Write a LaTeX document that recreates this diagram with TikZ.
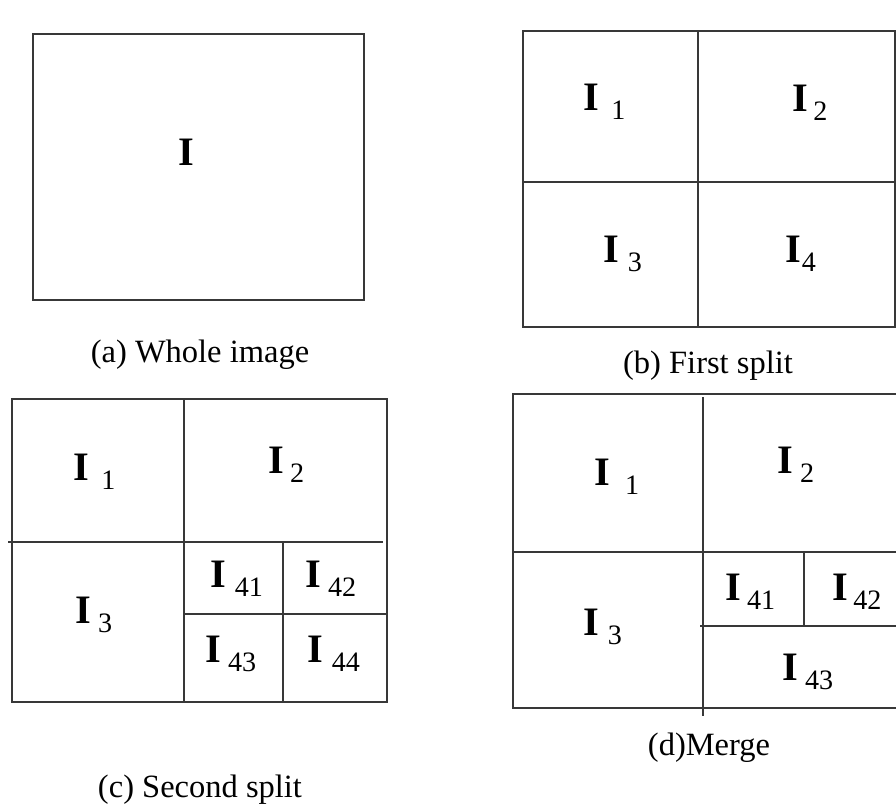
\documentclass[tikz,border=0pt]{standalone}
\usepackage{fontspec}
\setmainfont{Liberation Serif}
\usepackage{tikz}

% region label: bold I with a lowered subscript
\newcommand{\subsz}{\fontsize{16}{18}\selectfont}
\newcommand{\Isub}[2][4pt]{\textbf{I}\hspace{#1}\raisebox{-5.5pt}{\subsz #2}}

\begin{document}
\begin{tikzpicture}[x=0.02cm, y=-0.02cm,
  every node/.style={inner sep=0pt, font=\fontsize{23}{27}\selectfont},
  region/.style={anchor=base west},
  caption/.style={anchor=base, font=\fontsize{18.5}{22}\selectfont},
  grid/.style={line width=1.1pt, draw=black!78}]

\useasboundingbox (0,0) rectangle (896,806);
\clip (0,0) rectangle (896,806);

% (a) whole image
\draw[grid] (33,34) rectangle (364,300);
\node[region] (a-I) at (178,165) {\textbf{I}};
\node[caption] (cap-a) at (200,362) {(a) Whole image};

% (b) first split
\draw[grid] (523,31) rectangle (895,327);
\draw[grid] (698,31) -- (698,327);
\draw[grid] (523,182) -- (895,182);
\node[region] (b-1) at (583,110) {\Isub[7pt]{1}};
\node[region] (b-2) at (792,111) {\Isub[3pt]{2}};
\node[region] (b-3) at (603,262) {\Isub[5pt]{3}};
\node[region] (b-4) at (785,262) {\Isub[0.5pt]{4}};
\node[caption] (cap-b) at (708,373) {(b) First split};

% (c) second split
\draw[grid] (12,399) rectangle (387,702);
\draw[grid] (184,399) -- (184,702);
\draw[grid] (8,542) -- (383,542);
\draw[grid] (283,542) -- (283,702);
\draw[grid] (184,614) -- (387,614);
\node[region] (c-1) at (73,480) {\Isub[7pt]{1}};
\node[region] (c-2) at (268,473) {\Isub[3.4pt]{2}};
\node[region] (c-3) at (75,623) {\Isub{3}};
\node[region] (c-41) at (210,587) {\Isub[5pt]{41}};
\node[region] (c-42) at (305,587) {\Isub{42}};
\node[region] (c-43) at (205,662) {\Isub{43}};
\node[region] (c-44) at (307,662) {\Isub[5pt]{44}};
\node[caption] (cap-c) at (200,797) {(c) Second split};

% (d) merge
\draw[grid] (513,394) rectangle (905,708);
\draw[grid] (703,397) -- (703,716);
\draw[grid] (513,552) -- (905,552);
\draw[grid] (700,626) -- (905,626);
\draw[grid] (804,552) -- (804,626);
\node[region] (d-1) at (594,485) {\Isub[8.5pt]{1}};
\node[region] (d-2) at (777,473) {\Isub{2}};
\node[region] (d-3) at (583,635) {\Isub[5pt]{3}};
\node[region] (d-41) at (725,600) {\Isub[3.4pt]{41}};
\node[region] (d-42) at (832,600) {\Isub[3pt]{42}};
\node[region] (d-43) at (782,680) {\Isub{43}};
\node[caption] (cap-d) at (709,755) {(d)Merge};

\end{tikzpicture}
\end{document}
